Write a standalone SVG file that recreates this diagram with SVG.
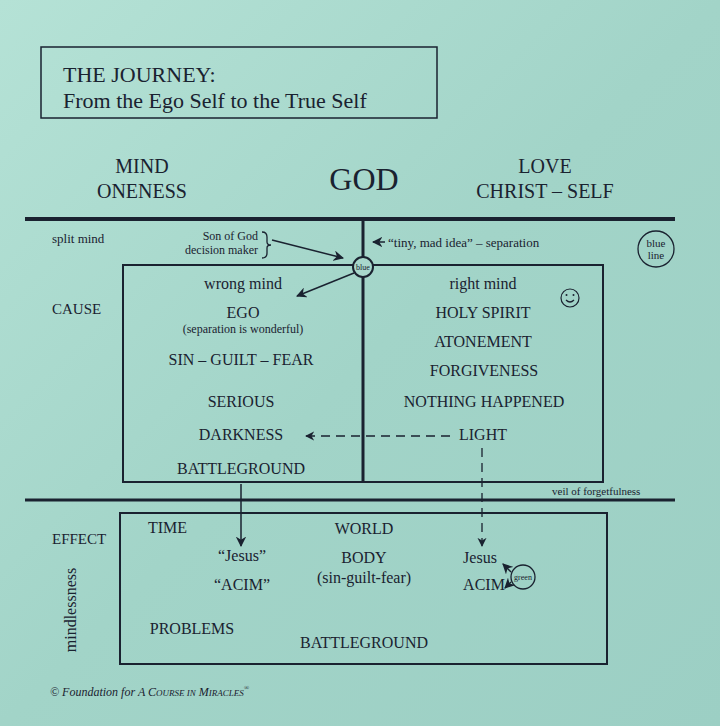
<svg xmlns="http://www.w3.org/2000/svg" width="720" height="726" viewBox="0 0 720 726">
<defs>
<linearGradient id="bg" x1="0" y1="0" x2="1" y2="1"><stop offset="0" stop-color="#b5e2d6"/><stop offset="0.5" stop-color="#a2d4c8"/><stop offset="1" stop-color="#9ccfc4"/></linearGradient>
<marker id="ah" viewBox="0 0 10 10" refX="9" refY="5" markerWidth="7" markerHeight="7" orient="auto-start-reverse"><path d="M0,0 L10,5 L0,10 L3,5 z" fill="#1a2230"/></marker>
<style>
text{font-family:"Liberation Serif",serif;fill:#1a2230}
.m{font-size:16px;text-anchor:middle}
.s{font-size:13px}
.ln{stroke:#1a2230;fill:none}
</style>
</defs>
<rect width="720" height="726" fill="url(#bg)"/>
<g id="title"><rect x="41" y="47" width="396" height="71" class="ln" stroke-width="1.5"/>
<text x="63" y="82" font-size="22">THE JOURNEY:</text>
<text x="63" y="108" font-size="22">From the Ego Self to the True Self</text></g>
<g id="heads">
<text x="142" y="173" font-size="20" text-anchor="middle">MIND</text>
<text x="142" y="198" font-size="20" text-anchor="middle">ONENESS</text>
<text x="364" y="190" font-size="32" text-anchor="middle">GOD</text>
<text x="545" y="173" font-size="20" text-anchor="middle">LOVE</text>
<text x="545" y="198" font-size="20" text-anchor="middle">CHRIST – SELF</text></g>
<g id="connectors">
<line x1="25" y1="219" x2="675" y2="219" class="ln" stroke-width="4"/>
<line x1="363" y1="219" x2="363" y2="482" class="ln" stroke-width="3"/>
<line x1="25" y1="500" x2="675" y2="500" class="ln" stroke-width="3"/>
<path d="M262,232 q5,0 5,5 v5 q0,3 4,3 q-4,0 -4,3 v5 q0,5 -5,5" class="ln" stroke-width="1.3"/>
<line x1="272" y1="240" x2="343" y2="258" class="ln" stroke-width="1.5" marker-end="url(#ah)"/>
<line x1="385" y1="242" x2="373" y2="242" class="ln" stroke-width="1.5" marker-end="url(#ah)"/>
<line x1="354" y1="273" x2="297" y2="296" class="ln" stroke-width="1.5" marker-end="url(#ah)"/>
<line x1="450" y1="436" x2="306" y2="436" class="ln" stroke-width="1.3" stroke-dasharray="9,6" marker-end="url(#ah)"/>
<line x1="482" y1="448" x2="482" y2="546" class="ln" stroke-width="1.3" stroke-dasharray="9,6" marker-end="url(#ah)"/>
<line x1="241" y1="484" x2="241" y2="546" class="ln" stroke-width="1.5" marker-end="url(#ah)"/>
<line x1="511" y1="572" x2="503" y2="564" class="ln" stroke-width="1.5" marker-end="url(#ah)"/>
<line x1="511" y1="582" x2="505" y2="588" class="ln" stroke-width="1.5" marker-end="url(#ah)"/>
</g>
<g id="cause"><rect x="123" y="265" width="480" height="217" class="ln" stroke-width="2"/>
<text x="52" y="314" font-size="15">CAUSE</text>
<text x="52" y="243" class="s">split mind</text>
<text x="258" y="240" font-size="12" text-anchor="end">Son of God</text>
<text x="258" y="254" font-size="12" text-anchor="end">decision maker</text>
<text x="388" y="247" class="s">“tiny, mad idea” – separation</text>
<text x="243" y="289" class="m">wrong mind</text>
<text x="243" y="318" class="m">EGO</text>
<text x="243" y="333" font-size="12" text-anchor="middle">(separation is wonderful)</text>
<text x="241" y="365" class="m">SIN – GUILT – FEAR</text>
<text x="241" y="407" class="m">SERIOUS</text>
<text x="241" y="440" class="m">DARKNESS</text>
<text x="241" y="474" class="m">BATTLEGROUND</text>
<text x="483" y="289" class="m">right mind</text>
<text x="483" y="318" class="m">HOLY SPIRIT</text>
<text x="483" y="347" class="m">ATONEMENT</text>
<text x="484" y="376" class="m">FORGIVENESS</text>
<text x="484" y="407" class="m">NOTHING HAPPENED</text>
<text x="483" y="440" class="m">LIGHT</text>
<g class="ln" stroke-width="1.2"><circle cx="570" cy="298" r="9"/><path d="M566,300 q4,4 8,0"/></g>
<circle cx="566.5" cy="295" r="1" fill="#1a2230"/><circle cx="573.5" cy="295" r="1" fill="#1a2230"/>
<text x="552" y="495" font-size="11">veil of forgetfulness</text></g>
<g id="blue"><circle cx="363" cy="267" r="10" fill="#a8d8cc" stroke="#1a2230" stroke-width="2"/><text x="363" y="270" font-size="8" text-anchor="middle">blue</text></g>
<g id="blueline"><circle cx="656" cy="249" r="18" fill="none" stroke="#1a2230" stroke-width="1.3"/><text x="656" y="247" font-size="11" text-anchor="middle">blue</text><text x="656" y="259" font-size="11" text-anchor="middle">line</text></g>
<g id="effect"><rect x="120" y="513" width="487" height="151" class="ln" stroke-width="2"/>
<text x="52" y="544" font-size="15">EFFECT</text>
<text transform="translate(76,610) rotate(-90)" class="m">mindlessness</text>
<text x="148" y="533" font-size="16">TIME</text>
<text x="364" y="534" class="m">WORLD</text>
<text x="242" y="561" class="m">“Jesus”</text>
<text x="242" y="590" class="m">“ACIM”</text>
<text x="364" y="563" class="m">BODY</text>
<text x="364" y="583" class="m">(sin-guilt-fear)</text>
<text x="480" y="563" class="m">Jesus</text>
<text x="484" y="590" class="m">ACIM</text>
<text x="192" y="634" class="m">PROBLEMS</text>
<text x="364" y="648" class="m">BATTLEGROUND</text></g>
<g id="green"><circle cx="523" cy="577" r="12" fill="none" stroke="#1a2230" stroke-width="1.3"/><text x="523" y="580" font-size="8" text-anchor="middle">green</text></g>
<text x="50" y="696" font-size="12" font-style="italic">© Foundation for A C<tspan font-size="9">OURSE IN</tspan> M<tspan font-size="9">IRACLES</tspan><tspan font-size="7" dy="-6">®</tspan></text>
</svg>
